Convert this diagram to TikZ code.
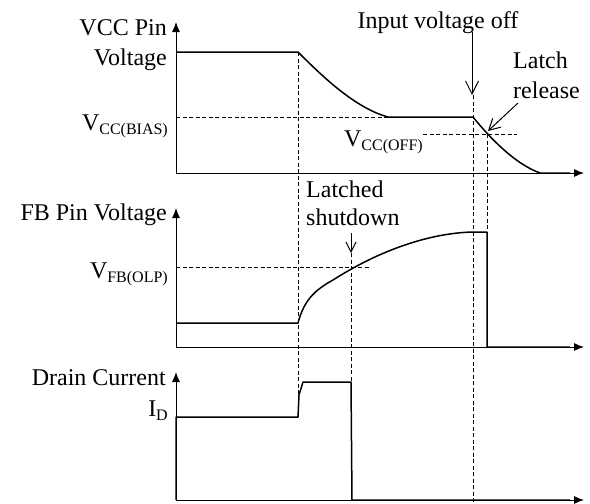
\documentclass[tikz,border=0pt]{standalone}
\usepackage{fontspec}
\setmainfont{Liberation Serif}
\usetikzlibrary{arrows.meta}
\newcommand{\mainsz}{\fontsize{24}{27}\selectfont}
\newcommand{\subsz}{\fontsize{16}{16}\selectfont}
\newcommand{\vsubx}[2]{#1\raisebox{-4pt}{\subsz #2}}
\tikzset{
  axis/.style={line width=0.9pt,-{Latex[length=10pt,width=8pt]}},
  trace/.style={line width=1.5pt,line join=round},
  guide/.style={line width=0.7pt,dash pattern=on 4pt off 2.5pt},
  note/.style={line width=1pt,-{Straight Barb[length=13pt,width=13pt,line width=1pt]}},
  lbl/.style={font=\mainsz,inner sep=0pt},
}
\begin{document}
\begin{tikzpicture}[x=1pt,y=-1pt]
\useasboundingbox (0,0) rectangle (590,504);
% coordinates
\coordinate (o1) at (176,173);
\coordinate (o2) at (176,347);
\coordinate (o3) at (176,500);
% dashed guides
\draw[guide] (176,117) -- (388,117);
\draw[guide] (423,134) -- (517,134);
\draw[guide] (176,267) -- (370,267);
\draw[guide] (298,52) -- (298,395);
\draw[guide] (351,253) -- (351,382);
\draw[guide] (473,95) -- (473,504);
\draw[guide] (487,134) -- (487,232);
% axes
\draw[axis] (o1) -- (176,22);
\draw[axis] (o1) -- (584,173);
\draw[axis] (o2) -- (176,208);
\draw[axis] (o2) -- (584,347);
\draw[axis] (o3) -- (176,372);
\draw[axis] (o3) -- (584,500);
% traces
\draw[trace] (176,52) -- (298,52) .. controls (322,76) and (355,108) .. (388,117)
  -- (473,117) .. controls (490,138) and (515,164) .. (540,173) -- (570,173);
\draw[trace] (176,323) -- (298,323) .. controls (304,300) and (315,290) .. (333,280)
  .. controls (380,250) and (430,233) .. (473,232)
  -- (487,232) -- (487,347) -- (570,347);
\draw[trace] (176,500) -- (176,417) -- (298,417) -- (299,395) -- (303,382) -- (351,382) -- (352,500) -- (570,500);
% labels
\node[lbl,anchor=base east] (t1) at (167,35) {VCC Pin};
\node[lbl,anchor=base east] (t2) at (167,65) {Voltage};
\node[lbl,anchor=base east] (t3) at (168,130) {\vsubx{V}{CC(BIAS)}};
\node[lbl,anchor=base east] (t4) at (423,146) {\vsubx{V}{CC(OFF)}};
\node[lbl,anchor=base east] (t5) at (167,220) {FB Pin Voltage};
\node[lbl,anchor=base east] (t6) at (168,278) {\vsubx{V}{FB(OLP)}};
\node[lbl,anchor=base east] (t7) at (166,385) {Drain Current};
\node[lbl,anchor=base east] (t8) at (168,416) {\vsubx{I}{D}};
\node[lbl,anchor=base] (t9) at (438,28) {Input voltage off};
\node[lbl,anchor=base west] (t10) at (513,68) {Latch};
\node[lbl,anchor=base west] (t11) at (513,98) {release};
\node[lbl,anchor=base west] (t12) at (306,197) {Latched};
\node[lbl,anchor=base west] (t13) at (306,225) {shutdown};
% annotation arrows
\coordinate (a1s) at (472,32);
\coordinate (a1e) at (472,95);
\coordinate (a2s) at (518,103);
\coordinate (a2e) at (488,131);
\coordinate (a3s) at (351,233);
\coordinate (a3e) at (351,253);
\draw[note] (a1s) -- (a1e);
\draw[note,-{Straight Barb[length=11pt,width=12pt,line width=1pt]}] (a2s) -- (a2e);
\draw[note,-{Straight Barb[length=10pt,width=10pt,line width=1pt]}] (a3s) -- (a3e);
\end{tikzpicture}
\end{document}
